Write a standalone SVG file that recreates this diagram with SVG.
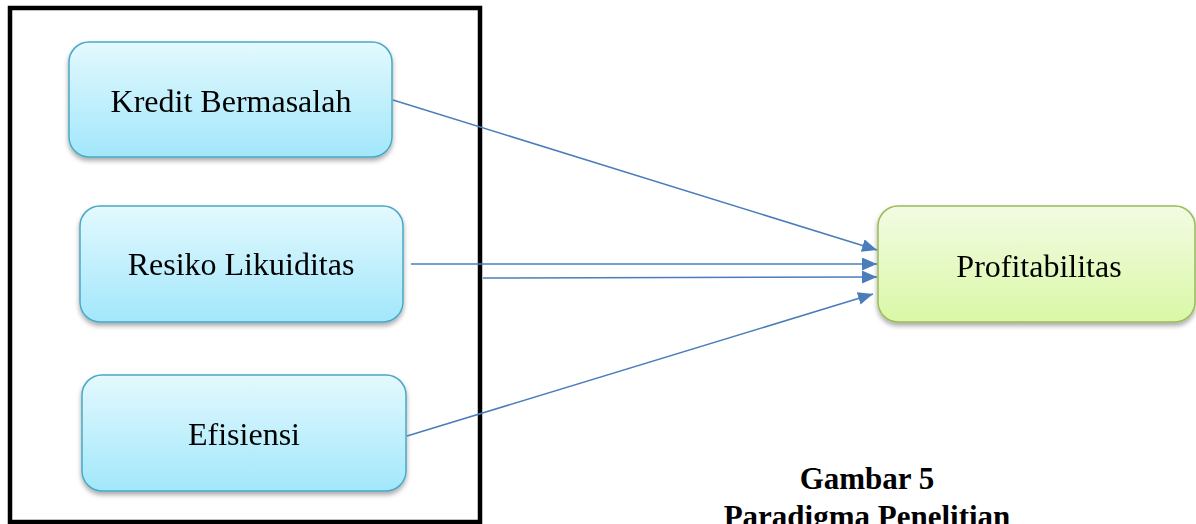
<svg xmlns="http://www.w3.org/2000/svg" width="1196" height="524" viewBox="0 0 1196 524">
<defs>
<linearGradient id="gBlue" x1="0" y1="0" x2="0" y2="1">
<stop offset="0" stop-color="#e3f9fe"/>
<stop offset="1" stop-color="#a2e7fb"/>
</linearGradient>
<linearGradient id="gGreen" x1="0" y1="0" x2="0" y2="1">
<stop offset="0" stop-color="#f3fbe3"/>
<stop offset="1" stop-color="#d9f8a6"/>
</linearGradient>
<filter id="sh" x="-10%" y="-10%" width="120%" height="130%">
<feGaussianBlur in="SourceAlpha" stdDeviation="2.5"/>
<feOffset dx="0" dy="3" result="b"/>
<feComponentTransfer><feFuncA type="linear" slope="0.35"/></feComponentTransfer>
<feMerge><feMergeNode/><feMergeNode in="SourceGraphic"/></feMerge>
</filter>
<marker id="arr" viewBox="0 0 15 13" refX="15" refY="6.5" markerWidth="15" markerHeight="13" markerUnits="userSpaceOnUse" orient="auto">
<path d="M0,0 L15,6.5 L0,13 z" fill="#4a7ebb"/>
</marker>
</defs>
<style>
.blue{fill:url(#gBlue);stroke:#4aa9c5;stroke-width:1.5}
.green{fill:url(#gGreen);stroke:#9bbb59;stroke-width:1.5}
.lbl{font-family:"Liberation Serif","Times New Roman",serif;font-size:32px;fill:#000;text-anchor:middle}
.cap{font-family:"Liberation Serif","Times New Roman",serif;font-size:31px;font-weight:bold;fill:#000;text-anchor:middle}
.conn{stroke:#4a7ebb;stroke-width:1.6;fill:none;marker-end:url(#arr)}
</style>
<rect x="0" y="0" width="1196" height="524" fill="#fff"/>
<rect id="frame" x="10" y="8" width="470" height="514" fill="none" stroke="#000" stroke-width="4.5"/>
<g id="node-kredit" filter="url(#sh)">
<rect class="blue" x="69" y="42" width="323" height="115" rx="20"/>
<text class="lbl" x="231" y="112">Kredit Bermasalah</text>
</g>
<g id="node-resiko" filter="url(#sh)">
<rect class="blue" x="80" y="206" width="323" height="116" rx="20"/>
<text class="lbl" x="241" y="275">Resiko Likuiditas</text>
</g>
<g id="node-efisiensi" filter="url(#sh)">
<rect class="blue" x="82" y="375" width="324" height="116" rx="20"/>
<text class="lbl" x="244" y="445">Efisiensi</text>
</g>
<g id="node-profit" filter="url(#sh)">
<rect class="green" x="878" y="206" width="317" height="116" rx="20"/>
<text class="lbl" x="1039" y="277">Profitabilitas</text>
</g>
<g id="connectors">
<line class="conn" x1="393" y1="100" x2="877" y2="250"/>
<line class="conn" x1="411" y1="264" x2="877" y2="264"/>
<line class="conn" x1="483" y1="278" x2="877" y2="277"/>
<line class="conn" x1="407" y1="436" x2="873" y2="294"/>
</g>
<g id="caption">
<text class="cap" x="867" y="489">Gambar 5</text>
<text class="cap" x="867" y="527">Paradigma Penelitian</text>
</g>
</svg>
